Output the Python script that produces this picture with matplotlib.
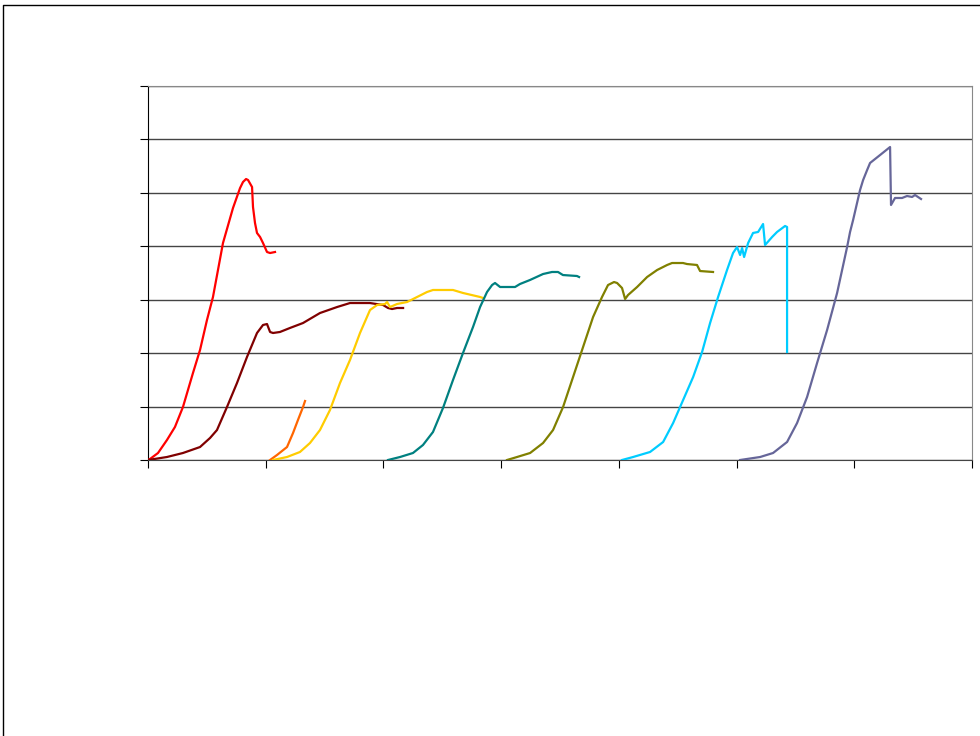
import matplotlib
matplotlib.use("Agg")
import matplotlib.pyplot as plt
from matplotlib.lines import Line2D

# curves (x: 0-7, y: 0-70)
red_x = [0, 0.017, 0.085, 0.161, 0.229, 0.297, 0.382, 0.442, 0.501, 0.552, 0.637, 0.722, 0.782, 0.807, 0.833, 0.850, 0.884, 0.892, 0.909, 0.926, 0.952, 0.977, 1.011, 1.037, 1.079]
red_y = [0, 0.19, 1.31, 3.74, 6.18, 9.92, 16.28, 20.59, 26.2, 30.51, 40.61, 47.16, 50.9, 52.03, 52.59, 52.40, 51.09, 47.35, 44.36, 42.49, 41.74, 40.61, 38.93, 38.74, 38.93]

maroon_x = [0, 0.161, 0.297, 0.442, 0.527, 0.586, 0.671, 0.756, 0.841, 0.926, 0.977, 1.011, 1.037, 1.062, 1.121, 1.206, 1.317, 1.461, 1.606, 1.716, 1.886, 1.997, 2.039, 2.073, 2.116, 2.167]
maroon_y = [0, 0.56, 1.31, 2.43, 4.12, 5.61, 9.92, 14.41, 19.28, 23.77, 25.27, 25.45, 23.96, 23.77, 23.96, 24.71, 25.64, 27.51, 28.63, 29.38, 29.38, 29.01, 28.45, 28.26, 28.45, 28.45]

orange_x = [1.037, 1.096, 1.181, 1.232, 1.274, 1.317, 1.334]
orange_y = [0, 0.94, 2.43, 5.05, 7.49, 9.92, 11.04]

yellow_x = [1.062, 1.181, 1.291, 1.376, 1.461, 1.546, 1.631, 1.716, 1.801, 1.886, 1.946, 2.014, 2.031, 2.056, 2.116, 2.201, 2.286, 2.370, 2.421, 2.591, 2.676, 2.821, 2.846]
yellow_y = [0, 0.56, 1.50, 3.18, 5.61, 9.36, 14.41, 18.72, 23.77, 28.07, 29.01, 29.20, 29.57, 28.63, 29.20, 29.57, 30.51, 31.44, 31.82, 31.82, 31.26, 30.51, 30.32]

teal_x = [2.039, 2.141, 2.251, 2.336, 2.421, 2.506, 2.591, 2.676, 2.761, 2.821, 2.880, 2.923, 2.948, 2.991, 3.118, 3.160, 3.245, 3.356, 3.432, 3.483, 3.525, 3.644, 3.662]
teal_y = [0, 0.56, 1.31, 2.81, 5.24, 9.73, 14.97, 20.03, 24.89, 28.63, 31.44, 32.75, 33.13, 32.38, 32.38, 32.94, 33.69, 34.81, 35.19, 35.19, 34.62, 34.44, 34.25]

olive_x = [3.050, 3.135, 3.246, 3.356, 3.441, 3.526, 3.611, 3.696, 3.781, 3.857, 3.908, 3.959, 3.985, 4.027, 4.053, 4.078, 4.155, 4.240, 4.325, 4.410, 4.452, 4.545, 4.579, 4.664, 4.690, 4.800]
olive_y = [0, 0.56, 1.31, 3.18, 5.61, 9.92, 15.53, 21.15, 26.76, 30.51, 32.75, 33.31, 33.13, 32.19, 30.13, 30.88, 32.38, 34.25, 35.56, 36.50, 36.87, 36.87, 36.68, 36.50, 35.37, 35.19]

cyan_x = [4.027, 4.121, 4.265, 4.376, 4.461, 4.546, 4.631, 4.707, 4.775, 4.843, 4.919, 4.970, 5.004, 5.030, 5.047, 5.064, 5.098, 5.140, 5.183, 5.225, 5.242, 5.302, 5.344, 5.412, 5.429, 5.429]
cyan_y = [0, 0.56, 1.50, 3.37, 6.92, 11.23, 15.53, 20.21, 25.64, 30.51, 35.56, 38.74, 39.86, 38.37, 39.68, 37.99, 40.61, 42.49, 42.68, 44.17, 40.24, 41.74, 42.68, 43.80, 43.61, 20.21]

slate_x = [5.030, 5.200, 5.310, 5.429, 5.514, 5.599, 5.684, 5.769, 5.854, 5.939, 5.964, 5.990, 6.049, 6.075, 6.109, 6.134, 6.219, 6.304, 6.312, 6.346, 6.406, 6.448, 6.491, 6.516, 6.567]
slate_y = [0, 0.56, 1.31, 3.37, 6.92, 11.79, 18.16, 24.33, 31.26, 39.86, 42.67, 44.92, 50.53, 52.4, 54.27, 55.59, 57.08, 58.58, 47.73, 49.04, 49.04, 49.41, 49.23, 49.60, 48.85]

series = [
    (red_x, red_y, "#ff0000"),
    (maroon_x, maroon_y, "#800000"),
    (orange_x, orange_y, "#ff6600"),
    (yellow_x, yellow_y, "#ffcc00"),
    (teal_x, teal_y, "#008080"),
    (olive_x, olive_y, "#808000"),
    (cyan_x, cyan_y, "#00ccff"),
    (slate_x, slate_y, "#666699"),
]

fig = plt.figure(figsize=(9.8, 7.36), dpi=100)
ax = fig.add_axes([148 / 980, 1 - 460 / 736, (972 - 148) / 980, (460 - 86) / 736])

for xs, ys, c in series:
    ax.plot(xs, ys, color=c, lw=1.6, zorder=3)

ax.set_xlim(0, 7)
ax.set_ylim(0, 70)
ax.set_xticks(range(0, 8))
ax.set_yticks(range(0, 71, 10))
ax.set_xticklabels([])
ax.set_yticklabels([])
ax.tick_params(direction="out", length=6, width=0.8, color="black")
ax.grid(axis="y", color="#444444", lw=1)
ax.set_axisbelow(True)

ax.spines["left"].set_color("black")
ax.spines["bottom"].set_color("#444444")
ax.spines["top"].set_color("#888888")
ax.spines["right"].set_color("#888888")

# outer frame (only top and left edges show)
fig.add_artist(Line2D([3 / 980, 3 / 980, 1], [0, 1 - 5 / 736, 1 - 5 / 736],
                      color="black", lw=1, transform=fig.transFigure))

fig.savefig("out.png", dpi=100)
